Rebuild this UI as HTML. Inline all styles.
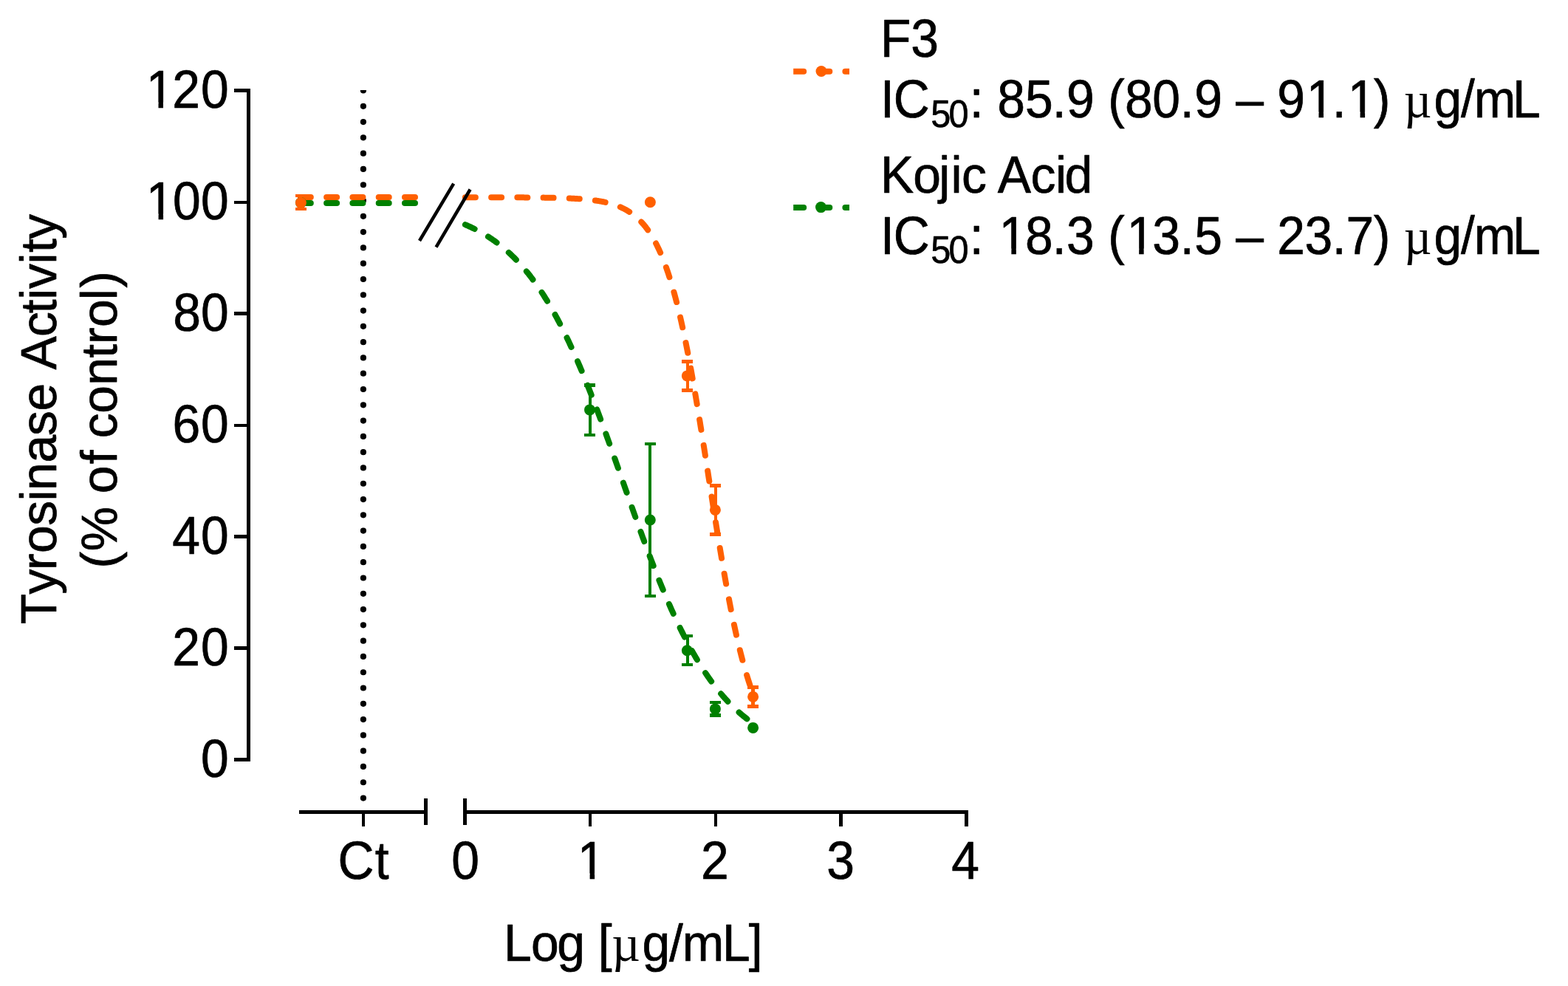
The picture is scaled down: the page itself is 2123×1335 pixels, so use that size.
<!DOCTYPE html>
<html lang="en"><head><meta charset="utf-8"><title>Tyrosinase Activity</title>
<style>html,body{margin:0;padding:0;background:#fff;overflow:hidden}svg{display:block}text{font-family:"Liberation Sans",sans-serif}.mu{font-family:"Liberation Serif",serif}</style>
</head><body>
<svg width="2123" height="1335" viewBox="0 0 2123 1335">
<rect width="2123" height="1335" fill="#fff"/>
<defs><clipPath id="cd"><rect x="480" y="122" width="24" height="990"/></clipPath><clipPath id="cl1"><rect x="1074.2" y="80" width="75.8" height="40"/></clipPath><clipPath id="cl2"><rect x="1074.2" y="260" width="75.8" height="40"/></clipPath></defs>
<path d="M491.9,122.5 V1090" stroke="#000" stroke-width="8.2" stroke-linecap="round" stroke-dasharray="0 21.29" fill="none" clip-path="url(#cd)"/>
<path d="M406.8,267.00 H576" stroke="#FF6000" fill="none" stroke-width="8.0" stroke-linecap="round" stroke-dasharray="14.0 21.3"/>
<path d="M629.90,267.22 L630.88,267.22 L631.86,267.22 L632.83,267.22 L633.81,267.22 L634.79,267.22 L635.77,267.22 L636.74,267.22 L637.72,267.23 L638.70,267.23 L639.68,267.23 L640.65,267.23 L641.63,267.23 L642.61,267.23 L643.59,267.23 L644.57,267.23 L645.54,267.23 L646.52,267.23 L647.50,267.23 L648.48,267.23 L649.45,267.23 L650.43,267.23 L651.41,267.23 L652.39,267.23 L653.36,267.24 L654.34,267.24 L655.32,267.24 L656.30,267.24 L657.28,267.24 L658.25,267.24 L659.23,267.24 L660.21,267.24 L661.19,267.24 L662.16,267.24 L663.14,267.25 L664.12,267.25 L665.10,267.25 L666.07,267.25 L667.05,267.25 L668.03,267.25 L669.01,267.25 L669.99,267.25 L670.96,267.26 L671.94,267.26 L672.92,267.26 L673.90,267.26 L674.87,267.26 L675.85,267.26 L676.83,267.27 L677.81,267.27 L678.78,267.27 L679.76,267.27 L680.74,267.27 L681.72,267.27 L682.70,267.28 L683.67,267.28 L684.65,267.28 L685.63,267.28 L686.61,267.29 L687.58,267.29 L688.56,267.29 L689.54,267.29 L690.52,267.30 L691.49,267.30 L692.47,267.30 L693.45,267.31 L694.43,267.31 L695.41,267.31 L696.38,267.32 L697.36,267.32 L698.34,267.32 L699.32,267.33 L700.29,267.33 L701.27,267.33 L702.25,267.34 L703.23,267.34 L704.20,267.35 L705.18,267.35 L706.16,267.36 L707.14,267.36 L708.12,267.37 L709.09,267.37 L710.07,267.38 L711.05,267.38 L712.03,267.39 L713.00,267.40 L713.98,267.40 L714.96,267.41 L715.94,267.41 L716.91,267.42 L717.89,267.43 L718.87,267.44 L719.85,267.44 L720.83,267.45 L721.80,267.46 L722.78,267.47 L723.76,267.48 L724.74,267.48 L725.71,267.49 L726.69,267.50 L727.67,267.51 L728.65,267.52 L729.62,267.53 L730.60,267.54 L731.58,267.56 L732.56,267.57 L733.54,267.58 L734.51,267.59 L735.49,267.60 L736.47,267.62 L737.45,267.63 L738.42,267.65 L739.40,267.66 L740.38,267.67 L741.36,267.69 L742.33,267.71 L743.31,267.72 L744.29,267.74 L745.27,267.76 L746.25,267.78 L747.22,267.80 L748.20,267.81 L749.18,267.84 L750.16,267.86 L751.13,267.88 L752.11,267.90 L753.09,267.92 L754.07,267.95 L755.04,267.97 L756.02,268.00 L757.00,268.02 L757.98,268.05 L758.96,268.08 L759.93,268.11 L760.91,268.14 L761.89,268.17 L762.87,268.20 L763.84,268.23 L764.82,268.27 L765.80,268.30 L766.78,268.34 L767.75,268.38 L768.73,268.42 L769.71,268.46 L770.69,268.50 L771.67,268.54 L772.64,268.59 L773.62,268.63 L774.60,268.68 L775.58,268.73 L776.55,268.78 L777.53,268.83 L778.51,268.89 L779.49,268.94 L780.46,269.00 L781.44,269.06 L782.42,269.12 L783.40,269.19 L784.38,269.25 L785.35,269.32 L786.33,269.39 L787.31,269.47 L788.29,269.54 L789.26,269.62 L790.24,269.70 L791.22,269.78 L792.20,269.87 L793.17,269.96 L794.15,270.05 L795.13,270.15 L796.11,270.24 L797.09,270.34 L798.06,270.45 L799.04,270.56 L800.02,270.67 L801.00,270.78 L801.97,270.90 L802.95,271.03 L803.93,271.15 L804.91,271.29 L805.88,271.42 L806.86,271.56 L807.84,271.71 L808.82,271.86 L809.80,272.01 L810.77,272.17 L811.75,272.34 L812.73,272.51 L813.71,272.68 L814.68,272.87 L815.66,273.05 L816.64,273.25 L817.62,273.45 L818.59,273.66 L819.57,273.87 L820.55,274.09 L821.53,274.32 L822.51,274.56 L823.48,274.80 L824.46,275.05 L825.44,275.31 L826.42,275.58 L827.39,275.86 L828.37,276.15 L829.35,276.44 L830.33,276.75 L831.31,277.07 L832.28,277.39 L833.26,277.73 L834.24,278.08 L835.22,278.44 L836.19,278.81 L837.17,279.19 L838.15,279.58 L839.13,279.99 L840.10,280.41 L841.08,280.85 L842.06,281.30 L843.04,281.76 L844.02,282.24 L844.99,282.73 L845.97,283.24 L846.95,283.77 L847.93,284.31 L848.90,284.87 L849.88,285.45 L850.86,286.05 L851.84,286.66 L852.81,287.30 L853.79,287.95 L854.77,288.63 L855.75,289.33 L856.73,290.05 L857.70,290.79 L858.68,291.55 L859.66,292.34 L860.64,293.16 L861.61,294.00 L862.59,294.86 L863.57,295.75 L864.55,296.68 L865.52,297.62 L866.50,298.60 L867.48,299.61 L868.46,300.65 L869.44,301.72 L870.41,302.82 L871.39,303.96 L872.37,305.13 L873.35,306.34 L874.32,307.58 L875.30,308.86 L876.28,310.18 L877.26,311.54 L878.23,312.93 L879.21,314.37 L880.19,315.85 L881.17,317.38 L882.15,318.94 L883.12,320.56 L884.10,322.22 L885.08,323.93 L886.06,325.68 L887.03,327.49 L888.01,329.34 L888.99,331.25 L889.97,333.21 L890.94,335.23 L891.92,337.30 L892.90,339.43 L893.88,341.62 L894.86,343.86 L895.83,346.16 L896.81,348.53 L897.79,350.96 L898.77,353.45 L899.74,356.00 L900.72,358.62 L901.70,361.31 L902.68,364.07 L903.65,366.89 L904.63,369.78 L905.61,372.74 L906.59,375.78 L907.57,378.89 L908.54,382.07 L909.52,385.32 L910.50,388.65 L911.48,392.06 L912.45,395.54 L913.43,399.10 L914.41,402.73 L915.39,406.45 L916.36,410.24 L917.34,414.11 L918.32,418.06 L919.30,422.09 L920.28,426.20 L921.25,430.39 L922.23,434.66 L923.21,439.01 L924.19,443.44 L925.16,447.95 L926.14,452.53 L927.12,457.20 L928.10,461.94 L929.07,466.76 L930.05,471.65 L931.03,476.63 L932.01,481.67 L932.99,486.79 L933.96,491.98 L934.94,497.24 L935.92,502.57 L936.90,507.97 L937.87,513.43 L938.85,518.96 L939.83,524.55 L940.81,530.20 L941.78,535.91 L942.76,541.67 L943.74,547.49 L944.72,553.35 L945.70,559.27 L946.67,565.23 L947.65,571.23 L948.63,577.28 L949.61,583.36 L950.58,589.47 L951.56,595.62 L952.54,601.79 L953.52,607.99 L954.49,614.21 L955.47,620.45 L956.45,626.70 L957.43,632.97 L958.41,639.24 L959.38,645.52 L960.36,651.80 L961.34,658.07 L962.32,664.34 L963.29,670.61 L964.27,676.86 L965.25,683.09 L966.23,689.31 L967.20,695.50 L968.18,701.66 L969.16,707.80 L970.14,713.91 L971.12,719.98 L972.09,726.02 L973.07,732.01 L974.05,737.96 L975.03,743.86 L976.00,749.72 L976.98,755.52 L977.96,761.27 L978.94,766.96 L979.91,772.60 L980.89,778.17 L981.87,783.68 L982.85,789.13 L983.83,794.51 L984.80,799.82 L985.78,805.06 L986.76,810.24 L987.74,815.34 L988.71,820.36 L989.69,825.31 L990.67,830.19 L991.65,834.99 L992.62,839.71 L993.60,844.36 L994.58,848.92 L995.56,853.41 L996.54,857.82 L997.51,862.15 L998.49,866.40 L999.47,870.57 L1000.45,874.66 L1001.42,878.67 L1002.40,882.60 L1003.38,886.45 L1004.36,890.22 L1005.33,893.91 L1006.31,897.53 L1007.29,901.07 L1008.27,904.53 L1009.25,907.92 L1010.22,911.23 L1011.20,914.46 L1012.18,917.63 L1013.16,920.71 L1014.13,923.73 L1015.11,926.68 L1016.09,929.55 L1017.07,932.36 L1018.04,935.09 L1019.02,937.76 L1020.00,940.37" stroke="#FF6000" fill="none" stroke-width="8.0" stroke-linecap="round" stroke-dasharray="14.0 21.22"/>
<path d="M406.8,275.10 H576" stroke="#008000" fill="none" stroke-width="8.0" stroke-linecap="round" stroke-dasharray="14.0 21.3"/>
<path d="M629.90,304.17 L630.88,304.59 L631.86,305.01 L632.83,305.43 L633.81,305.86 L634.79,306.29 L635.77,306.74 L636.74,307.18 L637.72,307.64 L638.70,308.10 L639.68,308.56 L640.65,309.04 L641.63,309.51 L642.61,310.00 L643.59,310.49 L644.57,310.99 L645.54,311.50 L646.52,312.01 L647.50,312.53 L648.48,313.05 L649.45,313.58 L650.43,314.12 L651.41,314.67 L652.39,315.23 L653.36,315.79 L654.34,316.36 L655.32,316.93 L656.30,317.52 L657.28,318.11 L658.25,318.71 L659.23,319.32 L660.21,319.93 L661.19,320.56 L662.16,321.19 L663.14,321.83 L664.12,322.48 L665.10,323.13 L666.07,323.80 L667.05,324.47 L668.03,325.16 L669.01,325.85 L669.99,326.55 L670.96,327.26 L671.94,327.98 L672.92,328.70 L673.90,329.44 L674.87,330.19 L675.85,330.94 L676.83,331.71 L677.81,332.48 L678.78,333.27 L679.76,334.06 L680.74,334.87 L681.72,335.68 L682.70,336.51 L683.67,337.34 L684.65,338.19 L685.63,339.05 L686.61,339.91 L687.58,340.79 L688.56,341.68 L689.54,342.58 L690.52,343.49 L691.49,344.41 L692.47,345.34 L693.45,346.28 L694.43,347.24 L695.41,348.21 L696.38,349.18 L697.36,350.17 L698.34,351.18 L699.32,352.19 L700.29,353.21 L701.27,354.25 L702.25,355.30 L703.23,356.36 L704.20,357.44 L705.18,358.52 L706.16,359.62 L707.14,360.73 L708.12,361.86 L709.09,363.00 L710.07,364.15 L711.05,365.31 L712.03,366.49 L713.00,367.68 L713.98,368.88 L714.96,370.10 L715.94,371.33 L716.91,372.57 L717.89,373.83 L718.87,375.10 L719.85,376.39 L720.83,377.69 L721.80,379.00 L722.78,380.33 L723.76,381.67 L724.74,383.02 L725.71,384.39 L726.69,385.78 L727.67,387.18 L728.65,388.59 L729.62,390.02 L730.60,391.46 L731.58,392.92 L732.56,394.39 L733.54,395.88 L734.51,397.39 L735.49,398.90 L736.47,400.44 L737.45,401.98 L738.42,403.55 L739.40,405.13 L740.38,406.72 L741.36,408.33 L742.33,409.96 L743.31,411.60 L744.29,413.25 L745.27,414.92 L746.25,416.61 L747.22,418.31 L748.20,420.03 L749.18,421.77 L750.16,423.52 L751.13,425.28 L752.11,427.07 L753.09,428.86 L754.07,430.68 L755.04,432.50 L756.02,434.35 L757.00,436.21 L757.98,438.09 L758.96,439.98 L759.93,441.89 L760.91,443.81 L761.89,445.75 L762.87,447.70 L763.84,449.68 L764.82,451.66 L765.80,453.66 L766.78,455.68 L767.75,457.72 L768.73,459.77 L769.71,461.83 L770.69,463.91 L771.67,466.01 L772.64,468.12 L773.62,470.24 L774.60,472.38 L775.58,474.54 L776.55,476.71 L777.53,478.90 L778.51,481.10 L779.49,483.31 L780.46,485.55 L781.44,487.79 L782.42,490.05 L783.40,492.32 L784.38,494.61 L785.35,496.92 L786.33,499.23 L787.31,501.56 L788.29,503.91 L789.26,506.27 L790.24,508.64 L791.22,511.02 L792.20,513.42 L793.17,515.83 L794.15,518.26 L795.13,520.69 L796.11,523.14 L797.09,525.60 L798.06,528.08 L799.04,530.56 L800.02,533.06 L801.00,535.57 L801.97,538.09 L802.95,540.62 L803.93,543.17 L804.91,545.72 L805.88,548.29 L806.86,550.86 L807.84,553.45 L808.82,556.04 L809.80,558.65 L810.77,561.26 L811.75,563.89 L812.73,566.52 L813.71,569.16 L814.68,571.82 L815.66,574.47 L816.64,577.14 L817.62,579.82 L818.59,582.50 L819.57,585.19 L820.55,587.89 L821.53,590.59 L822.51,593.30 L823.48,596.02 L824.46,598.74 L825.44,601.47 L826.42,604.20 L827.39,606.94 L828.37,609.68 L829.35,612.43 L830.33,615.18 L831.31,617.94 L832.28,620.70 L833.26,623.46 L834.24,626.23 L835.22,629.00 L836.19,631.77 L837.17,634.54 L838.15,637.32 L839.13,640.10 L840.10,642.88 L841.08,645.66 L842.06,648.44 L843.04,651.22 L844.02,654.00 L844.99,656.78 L845.97,659.56 L846.95,662.34 L847.93,665.11 L848.90,667.89 L849.88,670.67 L850.86,673.44 L851.84,676.21 L852.81,678.98 L853.79,681.74 L854.77,684.50 L855.75,687.26 L856.73,690.02 L857.70,692.77 L858.68,695.51 L859.66,698.25 L860.64,700.99 L861.61,703.72 L862.59,706.45 L863.57,709.17 L864.55,711.88 L865.52,714.59 L866.50,717.29 L867.48,719.98 L868.46,722.67 L869.44,725.34 L870.41,728.02 L871.39,730.68 L872.37,733.33 L873.35,735.98 L874.32,738.62 L875.30,741.25 L876.28,743.87 L877.26,746.48 L878.23,749.08 L879.21,751.67 L880.19,754.25 L881.17,756.82 L882.15,759.38 L883.12,761.93 L884.10,764.47 L885.08,766.99 L886.06,769.51 L887.03,772.01 L888.01,774.50 L888.99,776.98 L889.97,779.45 L890.94,781.91 L891.92,784.35 L892.90,786.78 L893.88,789.20 L894.86,791.60 L895.83,793.99 L896.81,796.37 L897.79,798.74 L898.77,801.09 L899.74,803.43 L900.72,805.75 L901.70,808.06 L902.68,810.36 L903.65,812.64 L904.63,814.90 L905.61,817.16 L906.59,819.40 L907.57,821.62 L908.54,823.83 L909.52,826.02 L910.50,828.20 L911.48,830.36 L912.45,832.51 L913.43,834.65 L914.41,836.76 L915.39,838.87 L916.36,840.96 L917.34,843.03 L918.32,845.08 L919.30,847.13 L920.28,849.15 L921.25,851.16 L922.23,853.16 L923.21,855.14 L924.19,857.10 L925.16,859.05 L926.14,860.98 L927.12,862.89 L928.10,864.79 L929.07,866.68 L930.05,868.55 L931.03,870.40 L932.01,872.24 L932.99,874.06 L933.96,875.86 L934.94,877.65 L935.92,879.43 L936.90,881.18 L937.87,882.93 L938.85,884.65 L939.83,886.36 L940.81,888.06 L941.78,889.74 L942.76,891.40 L943.74,893.05 L944.72,894.68 L945.70,896.30 L946.67,897.90 L947.65,899.49 L948.63,901.06 L949.61,902.62 L950.58,904.16 L951.56,905.68 L952.54,907.19 L953.52,908.69 L954.49,910.17 L955.47,911.63 L956.45,913.09 L957.43,914.52 L958.41,915.94 L959.38,917.35 L960.36,918.74 L961.34,920.12 L962.32,921.48 L963.29,922.83 L964.27,924.16 L965.25,925.48 L966.23,926.79 L967.20,928.08 L968.18,929.36 L969.16,930.63 L970.14,931.88 L971.12,933.11 L972.09,934.34 L973.07,935.55 L974.05,936.74 L975.03,937.93 L976.00,939.10 L976.98,940.25 L977.96,941.40 L978.94,942.53 L979.91,943.65 L980.89,944.75 L981.87,945.85 L982.85,946.93 L983.83,948.00 L984.80,949.05 L985.78,950.09 L986.76,951.13 L987.74,952.15 L988.71,953.15 L989.69,954.15 L990.67,955.13 L991.65,956.10 L992.62,957.06 L993.60,958.01 L994.58,958.95 L995.56,959.88 L996.54,960.79 L997.51,961.70 L998.49,962.59 L999.47,963.47 L1000.45,964.35 L1001.42,965.21 L1002.40,966.06 L1003.38,966.90 L1004.36,967.73 L1005.33,968.55 L1006.31,969.36 L1007.29,970.16 L1008.27,970.95 L1009.25,971.73 L1010.22,972.50 L1011.20,973.26 L1012.18,974.01 L1013.16,974.75 L1014.13,975.49 L1015.11,976.21 L1016.09,976.92 L1017.07,977.63 L1018.04,978.32 L1019.02,979.01 L1020.00,979.69" stroke="#008000" fill="none" stroke-width="8.0" stroke-linecap="round" stroke-dasharray="14.0 21.14"/>
<circle cx="407.4" cy="274.6" r="7.5" fill="#008000"/>
<g fill="#FF6000" shape-rendering="crispEdges"><rect x="405" y="263" width="4" height="22"/><rect x="400" y="263" width="15" height="4"/><rect x="400" y="281" width="15" height="4"/></g>
<circle cx="407.4" cy="274.6" r="7.5" fill="#FF6000"/>
<circle cx="880.4" cy="273.7" r="7.5" fill="#FF6000"/>
<g fill="#FF6000" shape-rendering="crispEdges"><rect x="929" y="487" width="4" height="44"/><rect x="923" y="487" width="15" height="5"/><rect x="923" y="526" width="15" height="5"/></g>
<circle cx="930.4" cy="508.9" r="7.5" fill="#FF6000"/>
<g fill="#FF6000" shape-rendering="crispEdges"><rect x="967" y="655" width="4" height="71"/><rect x="961" y="655" width="15" height="5"/><rect x="961" y="721" width="15" height="5"/></g>
<circle cx="968.4" cy="690.4" r="7.5" fill="#FF6000"/>
<g fill="#FF6000" shape-rendering="crispEdges"><rect x="1017" y="928" width="5" height="31"/><rect x="1012" y="928" width="15" height="5"/><rect x="1012" y="954" width="15" height="5"/></g>
<circle cx="1019.6" cy="943.4" r="7.5" fill="#FF6000"/>
<g fill="#008000" shape-rendering="crispEdges"><rect x="797" y="519" width="4" height="72"/><rect x="791" y="519" width="15" height="5"/><rect x="791" y="587" width="15" height="4"/></g>
<circle cx="798.5" cy="554.9" r="7.5" fill="#008000"/>
<g fill="#008000" shape-rendering="crispEdges"><rect x="878" y="599" width="4" height="210"/><rect x="873" y="599" width="15" height="4"/><rect x="873" y="805" width="15" height="4"/></g>
<circle cx="880.3" cy="704.0" r="7.5" fill="#008000"/>
<g fill="#008000" shape-rendering="crispEdges"><rect x="929" y="859" width="4" height="43"/><rect x="923" y="859" width="15" height="4"/><rect x="923" y="898" width="15" height="4"/></g>
<circle cx="930.4" cy="880.8" r="7.5" fill="#008000"/>
<g fill="#008000" shape-rendering="crispEdges"><rect x="967" y="949" width="4" height="22"/><rect x="961" y="949" width="15" height="4"/><rect x="961" y="966" width="15" height="5"/></g>
<circle cx="968.4" cy="959.9" r="7.5" fill="#008000"/>
<circle cx="1019.6" cy="985.4" r="7.5" fill="#008000"/>
<path d="M614.2,248.6 L568.0,326.0 M636.6,256.5 L590.5,334.6" stroke="#000" stroke-width="4.5" stroke-linecap="butt" fill="none"/>
<g fill="#000" shape-rendering="crispEdges">
<rect x="334" y="120" width="5" height="911"/>
<rect x="317" y="120" width="18" height="5"/>
<rect x="317" y="272" width="18" height="4"/>
<rect x="317" y="422" width="18" height="5"/>
<rect x="317" y="574" width="18" height="4"/>
<rect x="317" y="724" width="18" height="5"/>
<rect x="317" y="875" width="18" height="5"/>
<rect x="317" y="1026" width="18" height="5"/>
<rect x="405" y="1097" width="174" height="5"/>
<rect x="627" y="1097" width="684" height="5"/>
<rect x="574" y="1081" width="5" height="36"/>
<rect x="627" y="1081" width="5" height="36"/>
<rect x="490" y="1097" width="4" height="22"/>
<rect x="797" y="1097" width="4" height="22"/>
<rect x="967" y="1097" width="4" height="22"/>
<rect x="1136" y="1097" width="5" height="22"/>
<rect x="1306" y="1097" width="5" height="22"/>
</g>
<g font-family="Liberation Sans" fill="#000" stroke="#000" stroke-width="0.7" stroke-linejoin="round">
<text transform="translate(0,146.00) scale(0.94495,1)" font-size="71.75"><tspan x="209.27 246.76 287.98" y="0">120</tspan></text>
<text transform="translate(0,297.00) scale(0.94495,1)" font-size="71.75"><tspan x="209.34 247.77 287.98" y="0">100</tspan></text>
<text transform="translate(0,448.00) scale(0.94495,1)" font-size="71.75"><tspan x="247.84 287.98" y="0">80</tspan></text>
<text transform="translate(0,599.00) scale(0.94495,1)" font-size="71.75"><tspan x="247.10 287.98" y="0">60</tspan></text>
<text transform="translate(0,750.00) scale(0.94495,1)" font-size="71.75"><tspan x="246.97 287.98" y="0">40</tspan></text>
<text transform="translate(0,901.00) scale(0.94495,1)" font-size="71.75"><tspan x="246.73 287.98" y="0">20</tspan></text>
<text transform="translate(0,1052.00) scale(0.94495,1)" font-size="71.75"><tspan x="287.98" y="0">0</tspan></text>
<text transform="translate(0,1190.00) scale(0.94495,1)" font-size="71.75"><tspan x="484.18 537.38" y="0">Ct</tspan></text>
<text transform="translate(0,1190.00) scale(0.94495,1)" font-size="71.75"><tspan x="646.94" y="0">0</tspan></text>
<text transform="translate(0,1190.00) scale(0.94495,1)" font-size="71.75"><tspan x="827.40" y="0">1</tspan></text>
<text transform="translate(0,1190.00) scale(0.94495,1)" font-size="71.75"><tspan x="1004.42" y="0">2</tspan></text>
<text transform="translate(0,1190.00) scale(0.94495,1)" font-size="71.75"><tspan x="1184.59" y="0">3</tspan></text>
<text transform="translate(0,1190.00) scale(0.94495,1)" font-size="71.75"><tspan x="1363.28" y="0">4</tspan></text>
<text transform="translate(0,1301.00) scale(0.96857,1)" font-size="70.0"><tspan x="704.18 742.36 778.85 816.51 835.97" y="0">Log [</tspan><tspan class="mu" x="855.13" y="0" font-size="69.0" stroke="none">µ</tspan><tspan x="897.61 935.29 953.67 1009.73 1046.54" y="0">g/mL]</tspan></text>
<text transform="translate(76.00,0) rotate(-90) scale(0.99706,1)" font-size="68.0"><tspan x="-847.74 -806.95 -774.23 -751.13 -713.92 -680.45 -666.01 -628.45 -591.77 -558.14 -521.01 -502.10 -457.29 -425.45 -406.90 -392.15 -358.55 -342.96 -324.78" y="0">Tyrosinase Activity</tspan></text>
<text transform="translate(158.00,0) rotate(-90) scale(0.99706,1)" font-size="68.0"><tspan x="-771.72 -748.48 -689.15 -670.25 -630.18 -613.90 -595.00 -561.28 -523.24 -486.18 -467.42 -444.33 -407.47 -391.00" y="0">(% of control)</tspan></text>
<text transform="translate(0,77.00) scale(0.94495,1)" font-size="71.75"><tspan x="1261.34 1305.18" y="0">F3</tspan></text>
<text transform="translate(0,159.00) scale(0.94495,1)" font-size="71.75"><tspan x="1261.45 1280.10" y="0">IC</tspan><tspan x="1333.78 1359.44" y="13" font-size="51.4">50</tspan><tspan x="1389.20 1408.97 1428.92 1469.00 1507.73 1528.23 1567.81 1587.76 1611.78 1651.12 1690.86 1711.58 1750.71 1770.65 1810.05 1830.00 1871.80 1908.70 1931.17 1968.20 1991.54" y="0">: 85.9 (80.9 – 91.1) </tspan><tspan class="mu" x="2011.49" y="0" font-size="69.0" stroke="none">µ</tspan><tspan x="2054.53 2093.34 2112.02 2167.37" y="0">g/mL</tspan></text>
<text transform="translate(0,261.00) scale(0.96857,1)" font-size="70.0"><tspan x="1230.73 1276.34 1312.47 1329.33 1344.30 1375.20 1394.66 1440.73 1475.27 1488.40" y="0">Kojic Acid</tspan></text>
<text transform="translate(0,344.00) scale(0.94495,1)" font-size="71.75"><tspan x="1261.45 1280.10" y="0">IC</tspan><tspan x="1333.78 1359.44" y="12" font-size="51.4">50</tspan><tspan x="1389.20 1411.47 1431.41 1469.00 1507.73 1528.23 1567.81 1587.76 1614.28 1651.12 1690.86 1711.58 1750.71 1770.65 1810.05 1830.00 1869.30 1908.70 1928.67 1968.20 1991.54" y="0">: 18.3 (13.5 – 23.7) </tspan><tspan class="mu" x="2011.49" y="0" font-size="69.0" stroke="none">µ</tspan><tspan x="2054.53 2093.34 2112.02 2167.37" y="0">g/mL</tspan></text>
</g>
<g fill="#fff"><rect x="200.30" y="138.55" width="14.20" height="9.65"/><rect x="221.00" y="138.55" width="13.30" height="9.65"/><rect x="200.37" y="289.55" width="14.20" height="9.65"/><rect x="221.07" y="289.55" width="13.30" height="9.65"/><rect x="784.40" y="1182.55" width="14.20" height="9.65"/><rect x="805.10" y="1182.55" width="13.30" height="9.65"/><rect x="1771.30" y="151.55" width="14.20" height="9.65"/><rect x="1792.00" y="151.55" width="13.30" height="9.65"/><rect x="1827.40" y="151.55" width="14.20" height="9.65"/><rect x="1848.10" y="151.55" width="13.30" height="9.65"/><rect x="1355.16" y="336.55" width="14.20" height="9.65"/><rect x="1375.86" y="336.55" width="13.30" height="9.65"/><rect x="1527.96" y="336.55" width="14.20" height="9.65"/><rect x="1548.66" y="336.55" width="13.30" height="9.65"/></g>
<g clip-path="url(#cl1)"><path d="M1074.2,96.85 H1170" stroke="#FF6000" fill="none" stroke-width="8.0" stroke-linecap="round" stroke-dasharray="14.0 21.1"/></g><circle cx="1112.0" cy="96.5" r="7.5" fill="#FF6000"/>
<g clip-path="url(#cl2)"><path d="M1074.2,281.0 H1170" stroke="#008000" fill="none" stroke-width="8.0" stroke-linecap="round" stroke-dasharray="14.0 21.1"/></g><circle cx="1111.5" cy="280.6" r="7.5" fill="#008000"/>
</svg></body></html>
